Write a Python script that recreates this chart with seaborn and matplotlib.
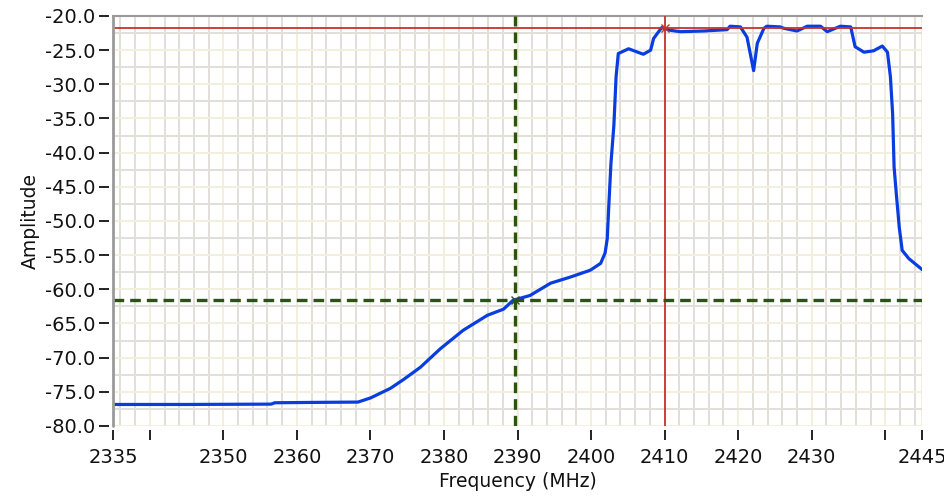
"""
plot.py
-------
Spectrum trace (amplitude vs frequency) with two cursors, drawn with seaborn.
"""

import matplotlib
matplotlib.use("Agg")
import matplotlib.pyplot as plt
from matplotlib.ticker import MultipleLocator, FixedLocator, FixedFormatter
import pandas as pd
import seaborn as sns

# ── Data ──────────────────────────────────────────────────────────────────────
freq_mhz = [
    2335.0, 2345.0, 2356.5, 2357.0, 2362.0, 2368.3, 2370.0, 2372.7, 2374.5,
    2376.8, 2379.5, 2382.6, 2385.9, 2388.1, 2389.4, 2391.7, 2394.5, 2397.2,
    2399.9, 2401.3, 2401.9, 2402.2, 2402.4, 2402.7, 2403.1, 2403.4, 2403.7,
    2405.1, 2407.1, 2408.1, 2408.5, 2409.6, 2410.8, 2412.1, 2415.3, 2418.5,
    2418.9, 2420.3, 2421.2, 2422.1, 2422.6, 2423.5, 2423.9, 2425.7, 2426.2,
    2428.0, 2429.4, 2431.2, 2432.1, 2433.9, 2435.3, 2435.9, 2437.1, 2438.4,
    2439.6, 2440.3, 2440.7, 2441.0, 2441.2, 2441.5, 2441.9, 2442.3, 2443.2,
    2444.1, 2445.0,
]
amplitude = [
    -76.85, -76.85, -76.8, -76.6, -76.55, -76.5, -75.9, -74.5, -73.2,
    -71.4, -68.7, -66.0, -63.8, -62.9, -61.6, -60.9, -59.1, -58.2,
    -57.2, -56.2, -54.7, -52.6, -48.0, -41.6, -36.0, -28.9, -25.5,
    -24.8, -25.6, -25.0, -23.3, -21.7, -22.1, -22.3, -22.2, -22.0,
    -21.5, -21.6, -23.1, -28.0, -24.0, -21.8, -21.5, -21.6, -21.8,
    -22.2, -21.5, -21.5, -22.3, -21.5, -21.6, -24.5, -25.3, -25.1,
    -24.4, -25.3, -28.9, -34.3, -42.1, -46.0, -50.9, -54.3, -55.5,
    -56.3, -57.1,
]

# cursor positions (frequency, amplitude)
cursor_red = (2410.0, -21.8)
cursor_green = (2389.6, -61.5)

x_ticks = [2335, 2340, 2350, 2360, 2370, 2380, 2390, 2400, 2410, 2420, 2430, 2440, 2445]
x_tick_labels = ["2335", "", "2350", "2360", "2370", "2380", "2390", "2400",
                 "2410", "2420", "2430", "", "2445"]

# ── Style ─────────────────────────────────────────────────────────────────────
BLUE = "#0a3de0"
RED = "#c8302c"
GREEN = "#2a5410"
GRID_MAJOR = "#f3efdf"
GRID_MINOR = "#e2dfd9"
AXIS_GREY = "#9a9a9a"

sns.set_theme(style="white")
plt.rcParams["font.family"] = ["DejaVu Sans"]

fig = plt.figure(figsize=(9.45, 4.99), dpi=100)
ax = fig.add_axes([0.1196, 0.1463, 0.8561, 0.8217])

df = pd.DataFrame({"Frequency (MHz)": freq_mhz, "Amplitude": amplitude})
sns.lineplot(data=df, x="Frequency (MHz)", y="Amplitude", ax=ax,
             color=BLUE, linewidth=2.3, zorder=3)

# cursors
ax.axhline(cursor_red[1], color=RED, lw=1.3, zorder=4)
ax.axvline(cursor_red[0], color=RED, lw=1.3, zorder=4)
ax.plot(*cursor_red, marker="x", color=RED, ms=6, mew=1, zorder=5)
ax.axhline(cursor_green[1], color=GREEN, lw=2.4, ls=(0, (3.2, 1.8)), zorder=4)
ax.axvline(cursor_green[0], color=GREEN, lw=2.4, ls=(0, (3.2, 1.8)), zorder=4)
ax.plot(*cursor_green, marker="x", color=GREEN, ms=6, mew=1, zorder=5)

# axes limits and ticks
ax.set_xlim(2335, 2445)
ax.set_ylim(-80, -20)
ax.xaxis.set_major_locator(FixedLocator(x_ticks))
ax.xaxis.set_major_formatter(FixedFormatter(x_tick_labels))
ax.xaxis.set_minor_locator(MultipleLocator(2))
ax.yaxis.set_major_locator(MultipleLocator(5))
ax.yaxis.set_minor_locator(MultipleLocator(2.5))
ax.yaxis.set_major_formatter(lambda v, pos: f"{v:.1f}")

ax.grid(which="major", color=GRID_MAJOR, lw=1.4, zorder=0)
ax.grid(which="minor", color=GRID_MINOR, lw=1.4, zorder=0)
ax.set_axisbelow(True)

for side in ["right", "bottom"]:
    ax.spines[side].set_visible(False)
ax.spines["top"].set_color(AXIS_GREY)
ax.spines["top"].set_linewidth(1.5)
# ticks drawn a few pixels away from the axis, like the original instrument UI
ax.spines["left"].set_position(("outward", 3))
ax.spines["left"].set_visible(False)
ax.spines["bottom"].set_position(("outward", 3))
ax.plot([0, 0], [0, 1], transform=ax.transAxes, color=AXIS_GREY,
        lw=2, clip_on=False, zorder=6)

ax.tick_params(which="major", direction="out", length=7.5, width=1.4,
               color="#222222", labelsize=14, labelcolor="#111111",
               bottom=True, left=True)
ax.tick_params(axis="y", pad=2)
ax.tick_params(axis="x", pad=5)
ax.tick_params(which="minor", length=0, bottom=False, left=False)

ax.set_xlabel("Frequency (MHz)", fontsize=13.5, color="#111111", labelpad=4)
ax.set_ylabel("Amplitude", fontsize=13.5, color="#111111", labelpad=4)

plt.savefig("out.png", dpi=100)
plt.close()
